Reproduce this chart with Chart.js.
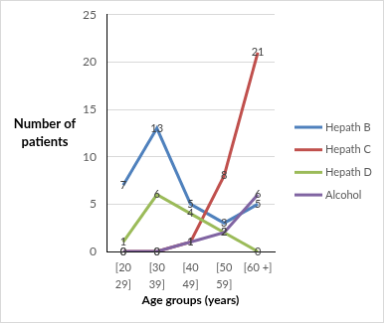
<!DOCTYPE html>
<html>
<head>
<meta charset="utf-8">
<script src="https://cdn.jsdelivr.net/npm/chart.js@4"></script>
<style>
  body { margin: 0; background: #fff; }
  canvas { display: block; border: 1px solid #d9d9d9; }
</style>
</head>
<body>
<canvas id="chart" width="384" height="323"></canvas>
<script>
// categorias y series
const ageGroups = [["[20", "29]"], ["[30", "39]"], ["[40", "49]"], ["[50", "59]"], "[60 +]"];
const hepathB = [7, 13, 5, 3, 5];
const hepathC = [0, 0, 1, 8, 21];
const hepathD = [1, 6, 4, 2, 0];
const alcohol = [0, 0, 1, 2, 6];
const yTicks = [0, 5, 10, 15, 20, 25];

Chart.defaults.font.family = 'Lato';
Chart.defaults.color = '#595959';

// numeros sobre cada punto
const pointLabels = {
  id: 'pointLabels',
  afterDatasetsDraw(chart) {
    const ctx = chart.ctx;
    ctx.save();
    ctx.font = '11px Lato';
    ctx.fillStyle = '#404040';
    ctx.textAlign = 'center';
    ctx.textBaseline = 'middle';
    chart.data.datasets.forEach((ds, i) => {
      chart.getDatasetMeta(i).data.forEach((pt, j) => {
        ctx.fillText(ds.data[j], pt.x, pt.y);
      });
    });
    ctx.restore();
  }
};

// titulo del eje y (horizontal) y leyenda a la derecha
const extras = {
  id: 'extras',
  afterDraw(chart) {
    const ctx = chart.ctx;
    ctx.save();
    ctx.font = 'bold 13px Lato';
    ctx.fillStyle = '#000';
    ctx.textAlign = 'center';
    ctx.textBaseline = 'middle';
    ctx.fillText('Number of', 44, 124);
    ctx.fillText('patients', 44, 142);

    ctx.font = '11px Lato';
    ctx.textAlign = 'left';
    ctx.fillStyle = '#595959';
    ctx.lineWidth = 3;
    chart.data.datasets.forEach((ds, i) => {
      const y = 127 + i * 22.7;
      ctx.strokeStyle = ds.borderColor;
      ctx.beginPath();
      ctx.moveTo(295, y);
      ctx.lineTo(323, y);
      ctx.stroke();
      ctx.fillText(ds.label, 326, y);
    });
    ctx.restore();
  }
};

function line(label, data, color, order) {
  return {
    label: label,
    data: data,
    borderColor: color,
    backgroundColor: color,
    borderWidth: 3,
    pointRadius: 0,
    tension: 0,
    order: order
  };
}

new Chart(document.getElementById('chart').getContext('2d'), {
  type: 'line',
  data: {
    labels: ageGroups,
    datasets: [
      line('Hepath B', hepathB, '#4f81bd', 3),
      line('Hepath C', hepathC, '#c0504d', 2),
      line('Hepath D', hepathD, '#9bbb59', 1),
      line('Alcohol', alcohol, '#8064a2', 0)
    ]
  },
  options: {
    responsive: false,
    animation: false,
    devicePixelRatio: 1,
    layout: { padding: { top: 13.7, right: 109, bottom: 0, left: 0 } },
    plugins: {
      tooltip: { enabled: false },
      legend: { display: false }
    },
    scales: {
      x: {
        offset: true,
        grid: { display: false, drawTicks: false },
        border: { display: true, color: '#000', width: 1 },
        ticks: { font: { size: 11, lineHeight: '17px' }, padding: 8, maxRotation: 0, autoSkip: false },
        title: { display: true, text: 'Age groups (years)', color: '#000', font: { size: 12, weight: 'bold' }, padding: { top: 0, bottom: 15 } },
        afterFit(s) { s.height = 71; }
      },
      y: {
        min: 0,
        max: 25,
        afterBuildTicks(s) { s.ticks = yTicks.map(v => ({ value: v })); },
        grid: { color: '#d9d9d9', drawTicks: false },
        border: { display: true, color: '#000', width: 1 },
        ticks: { font: { size: 12 }, padding: 10 },
        afterFit(s) { s.width = 106; s.paddingTop = 0; s.paddingBottom = 0; }
      }
    }
  },
  plugins: [pointLabels, extras]
});
</script>
</body>
</html>
